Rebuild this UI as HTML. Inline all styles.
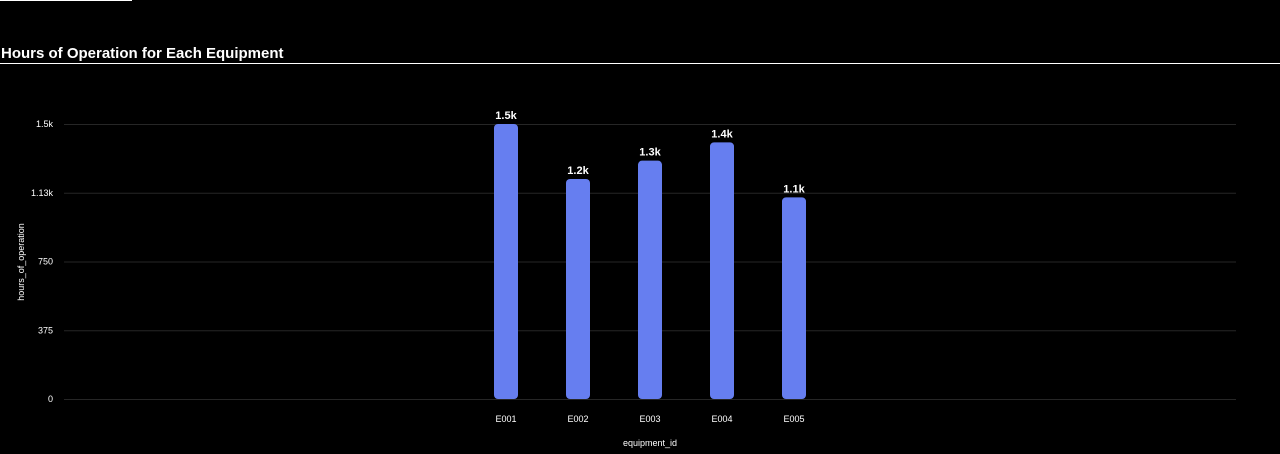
<!DOCTYPE html>
<html><head><meta charset="utf-8"><style>
html,body{margin:0;padding:0;background:#000;width:1280px;height:454px;overflow:hidden;font-family:"Liberation Sans",sans-serif}
</style></head><body>
<svg width="1280" height="454">
<line x1="0" y1="0.5" x2="132" y2="0.5" stroke="#fff" stroke-width="1"/>
<text x="1" y="58" fill="#fff" font-size="15" font-weight="bold">Hours of Operation for Each Equipment</text>
<line x1="0" y1="63.5" x2="1280" y2="63.5" stroke="#fff" stroke-width="1"/>
<g id="grid"></g><g id="bars"></g>
<text transform="translate(24,262) rotate(-90)" text-anchor="middle" fill="#fff" font-size="9">hours_of_operation</text>
<text x="650" y="446" text-anchor="middle" fill="#fff" font-size="9">equipment_id</text>
</svg>
<script>
const categories=["E001","E002","E003","E004","E005"];
const hours=[1500,1200,1300,1400,1100];
const barLabels=["1.5k","1.2k","1.3k","1.4k","1.1k"];
const tickValues=[0,375,750,1125,1500];
const tickLabels=["0","375","750","1.13k","1.5k"];
const NS="http://www.w3.org/2000/svg";
const y0=399,yTop=124,maxV=1500;
function y(v){return y0-(v/maxV)*(y0-yTop);}
function x(i){return 506+i*72;}
function mk(t,a,p){const e=document.createElementNS(NS,t);for(const k in a)e.setAttribute(k,a[k]);p.appendChild(e);return e;}
const g=document.getElementById('grid'),b=document.getElementById('bars');
tickValues.forEach((v,i)=>{
 const l=mk('line',{x1:64,x2:1236,y1:y(v)+0.5,y2:y(v)+0.5,stroke:'#262626'},g);
 
 
 const t=mk('text',{x:53,y:y(v)+3,'text-anchor':'end',fill:'#fff','font-size':9},g);
 t.textContent=tickLabels[i];
 
 
});
categories.forEach((c,i)=>{
 const r=mk('rect',{x:x(i)-12,y:y(hours[i]),width:24,height:y0-y(hours[i]),rx:4,fill:'#667ef0'},b);
 
 
 const t=mk('text',{x:x(i),y:y(hours[i])-5,'text-anchor':'middle',fill:'#fff','font-size':11,'font-weight':'bold'},b);
 t.textContent=barLabels[i];
 
 
 const xl=mk('text',{x:x(i),y:422,'text-anchor':'middle',fill:'#fff','font-size':9},b);
 xl.textContent=c;
 
 
});
</script>
</body></html>
